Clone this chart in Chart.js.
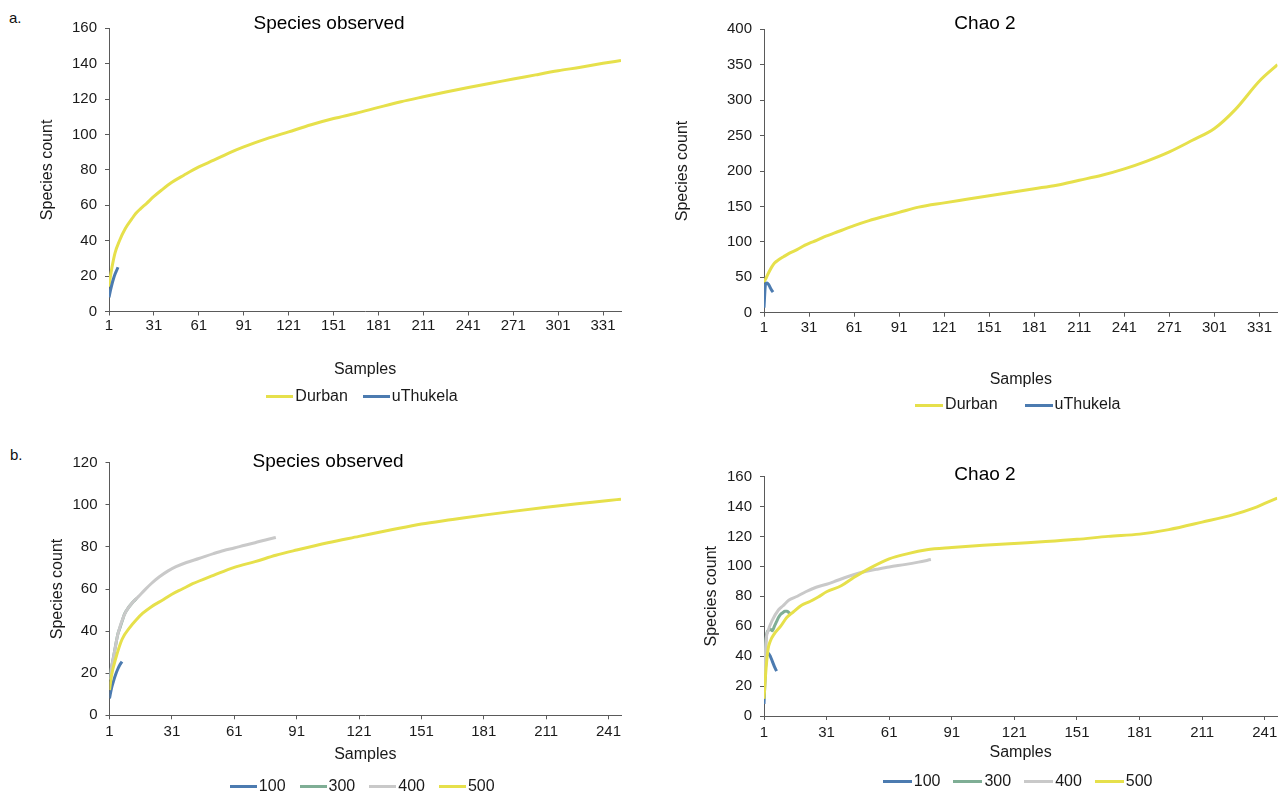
<!DOCTYPE html>
<html>
<head>
<meta charset="utf-8">
<script src="https://cdn.jsdelivr.net/npm/chart.js@4.4.1/dist/chart.umd.min.js"></script>
<style>
html, body { margin: 0; padding: 0; background: #ffffff; width: 1281px; height: 792px; overflow: hidden; }
canvas { position: absolute; left: 0; top: 0; }
.panel { position: absolute; font-family: "Liberation Sans", Arial, sans-serif; font-size: 15px; line-height: 17px; color: #111; }
</style>
</head>
<body>
<div class="panel" style="left:9px;top:9px">a.</div>
<div class="panel" style="left:10px;top:446px">b.</div>
<canvas id="a1" width="1281" height="820"></canvas>
<canvas id="a2" width="1281" height="820"></canvas>
<canvas id="b1" width="1281" height="820"></canvas>
<canvas id="b2" width="1281" height="820"></canvas>
<script>
// ---- tick labels ----
const xTicksA = [1, 31, 61, 91, 121, 151, 181, 211, 241, 271, 301, 331];
const xTicksB = [1, 31, 61, 91, 121, 151, 181, 211, 241];
const xMaxA = 343;
const xMaxB = 247;

// ---- a. Species observed ----
const a1DurbanX = [1, 2, 3, 5, 8, 12, 16, 19, 22, 26, 31, 36, 43, 51, 61, 71, 81, 91, 106, 121, 136, 151, 166, 181, 196, 211, 226, 241, 256, 271, 286, 301, 316, 331, 343];
const a1DurbanY = [14, 20, 25, 33, 40, 47, 52, 55.5, 58, 61, 65, 68.5, 73, 77, 81.7, 85.5, 89.5, 93, 97.5, 101.5, 105.5, 109, 112, 115.3, 118.5, 121.3, 124, 126.6, 129, 131.3, 133.7, 136, 138, 140.2, 141.8];
const a1UthukelaX = [1, 2, 3, 4, 5, 6, 7];
const a1UthukelaY = [8, 12, 15.5, 18.5, 21, 23, 25];

// ---- a. Chao 2 ----
const a2DurbanX = [1, 2, 4, 6, 8, 11, 14, 18, 23, 28, 31, 36, 41, 51, 61, 71, 81, 91, 104, 121, 136, 151, 166, 181, 196, 211, 226, 241, 256, 271, 286, 301, 315, 331, 343];
const a2DurbanY = [43, 47, 56, 64, 70, 75, 79, 84, 89, 95, 98, 102, 107, 115, 123, 130, 136, 141.6, 149, 155, 160, 165, 170, 175, 180, 187, 194, 203, 214, 227, 243, 260, 287, 327, 350];
const a2UthukelaX = [1, 2, 3, 4, 5, 6, 7];
const a2UthukelaY = [7, 40, 42, 40, 36, 32, 29];

// ---- b. Species observed ----
const b1S100X = [1, 2, 3, 4, 5, 6, 7];
const b1S100Y = [8, 13, 16.5, 19.5, 22, 24, 25.5];
const b1S300X = [1, 2, 3, 4, 5, 6, 7, 8, 9, 10, 11, 12, 13, 14];
const b1S300Y = [17, 23, 28, 33.5, 38.5, 41.5, 44.5, 47.5, 49.5, 51, 52.3, 53.5, 54.5, 55.5];
const b1S400X = [1, 2, 3, 5, 8, 10, 12, 15, 18, 21, 25, 29, 33, 38, 44, 51, 56, 61, 66, 71, 76, 81];
const b1S400Y = [17, 23, 28, 38.5, 47.5, 51, 53.5, 56.5, 59.6, 62.5, 65.8, 68.5, 70.6, 72.6, 74.5, 76.8, 78.3, 79.5, 80.8, 82, 83.3, 84.5];
const b1S500X = [1, 2, 4, 7, 11, 14, 17, 21, 27, 31, 36, 41, 51, 61, 71, 81, 91, 106, 121, 136, 151, 166, 181, 196, 211, 226, 241, 247];
const b1S500Y = [12, 19, 27, 36, 42, 45.5, 48.5, 51.5, 55, 57.5, 60, 62.5, 66.5, 70.3, 73, 76, 78.5, 82, 85, 88, 90.9, 93, 95.1, 97, 98.8, 100.5, 102, 102.7];

// ---- b. Chao 2 ----
const b2S100X = [1, 2, 3, 4, 5, 6, 7];
const b2S100Y = [8, 38, 42, 40, 36.5, 33, 30];
const b2S300X = [1, 2, 3, 4, 5, 6, 7, 8, 9, 10, 11, 12, 13, 14];
const b2S300Y = [15, 52, 57, 58, 57, 60, 63, 66, 68, 69, 70, 70, 69, 68];
const b2S400X = [1, 2, 3, 5, 8, 10, 13, 17, 21, 26, 31, 36, 41, 48, 55, 61, 69, 75, 81];
const b2S400Y = [18, 50, 57, 64, 71, 73.5, 77.5, 80, 83, 86, 88, 90.5, 93, 96, 98, 99.6, 101.3, 102.8, 104.5];
const b2S500X = [1, 2, 3, 4, 6, 9, 12, 15, 19, 23, 27, 31, 38, 44, 52, 61, 70, 79, 91, 106, 121, 136, 151, 166, 181, 195, 211, 226, 236, 241, 247];
const b2S500Y = [11.5, 32, 45, 50, 55, 60, 66, 69.5, 74, 76.5, 79.5, 83, 87, 92.5, 99, 105, 108.5, 111, 112.5, 114, 115.3, 116.5, 118, 120, 121.5, 124.5, 129.5, 134.5, 139, 142, 145.5];

// ---- styling ----
const FONT = '"Liberation Sans", Arial, Helvetica, sans-serif';
const YELLOW = '#E6E04B';
const BLUE = '#4C7BB0';
const GREEN = '#7FAE95';
const GREY = '#C9C9C9';
const AXIS = '#5a5a5a';
const TEXT = '#1a1a1a';

function legendLine(color, len) {
  const c = document.createElement('canvas');
  c.width = len; c.height = 3;
  const g = c.getContext('2d');
  g.fillStyle = color;
  g.fillRect(0, 0, len, 3);
  return c;
}

function series(label, xs, ys, color, order, legendLen) {
  return {
    label: label,
    data: xs.map((x, i) => ({ x: x, y: ys[i] })),
    borderColor: color,
    backgroundColor: color,
    borderWidth: 3,
    pointRadius: 0,
    pointHoverRadius: 0,
    pointStyle: legendLine(color, legendLen),
    cubicInterpolationMode: 'monotone',
    borderJoinStyle: 'round',
    fill: false,
    order: order
  };
}

function makeChart(id, L, datasets) {
  return new Chart(document.getElementById(id), {
    type: 'line',
    data: { datasets: datasets },
    options: {
      responsive: false,
      animation: false,
      devicePixelRatio: 1,
      events: [],
      layout: { padding: { left: L.padL, right: L.padR, top: L.padT, bottom: L.padB } },
      plugins: {
        title: {
          display: true, text: L.title, color: '#000',
          font: { family: FONT, size: 19, weight: 'normal' },
          padding: { top: L.titleT, bottom: L.titleB }
        },
        legend: {
          display: true, position: 'bottom', fullSize: false,
          labels: {
            usePointStyle: true, pointStyleWidth: L.legBox, padding: L.legPad,
            color: TEXT, font: { family: FONT, size: 16 },
            sort: (a, b) => a.datasetIndex - b.datasetIndex
          }
        },
        tooltip: { enabled: false }
      },
      scales: {
        x: {
          type: 'linear', min: 1, max: L.xMax,
          afterBuildTicks: (s) => { s.ticks = L.xTicks.map(v => ({ value: v })); },
          afterFit: (s) => { s.height = L.xH; },
          ticks: { color: TEXT, font: { family: FONT, size: 15 }, padding: L.xTickPad, maxRotation: 0, autoSkip: false },
          grid: { drawOnChartArea: false, drawTicks: true, tickLength: 4, color: AXIS },
          border: { display: true, color: AXIS, width: 1 },
          title: { display: true, text: 'Samples', color: TEXT, font: { family: FONT, size: 16 }, padding: { top: 0, bottom: L.xTitlePad } }
        },
        y: {
          type: 'linear', min: 0, max: L.yMax,
          afterFit: (s) => { s.width = L.yW; },
          ticks: { stepSize: L.yStep, color: TEXT, font: { family: FONT, size: 15 }, padding: 8 },
          grid: { drawOnChartArea: false, drawTicks: true, tickLength: 4, color: AXIS },
          border: { display: true, color: AXIS, width: 1 },
          title: { display: true, text: 'Species count', color: TEXT, font: { family: FONT, size: 16 }, padding: { top: L.yTitlePad, bottom: 0 } }
        }
      }
    }
  });
}

// a. Species observed
makeChart('a1', {
  title: 'Species observed', padL: 37, padR: 660, padT: 0, padB: 405.3,
  titleT: 11.9, titleB: -6.4, yW: 72, yTitlePad: 1.1, yMax: 160, yStep: 20,
  xMax: xMaxA, xTicks: xTicksA, xH: 56.2, xTickPad: 1.5, xTitlePad: -11.9,
  legPad: 21, legBox: 15
}, [
  series('Durban', a1DurbanX, a1DurbanY, YELLOW, 2, 27),
  series('uThukela', a1UthukelaX, a1UthukelaY, BLUE, 1, 27)
]);

// a. Chao 2
makeChart('a2', {
  title: 'Chao 2', padL: 692.5, padR: 3.5, padT: 0, padB: 397,
  titleT: 11.9, titleB: -5.4, yW: 71.5, yTitlePad: -19.1, yMax: 400, yStep: 50,
  xMax: xMaxA, xTicks: xTicksA, xH: 51.3, xTickPad: 2.6, xTitlePad: -25.6,
  legPad: 33, legBox: 16
}, [
  series('Durban', a2DurbanX, a2DurbanY, YELLOW, 2, 28),
  series('uThukela', a2UthukelaX, a2UthukelaY, BLUE, 1, 28)
]);

// b. Species observed
makeChart('b1', {
  title: 'Species observed', padL: 35, padR: 660, padT: 440, padB: 15.3,
  titleT: 10.3, titleB: -10.4, yW: 74.5, yTitlePad: 12.8, yMax: 120, yStep: 20,
  xMax: xMaxB, xTicks: xTicksB, xH: 43.4, xTickPad: 3.4, xTitlePad: -5.9,
  legPad: 20, legBox: 15
}, [
  series('100', b1S100X, b1S100Y, BLUE, 4, 27),
  series('300', b1S300X, b1S300Y, GREEN, 3, 27),
  series('400', b1S400X, b1S400Y, GREY, 2, 27),
  series('500', b1S500X, b1S500Y, YELLOW, 1, 27)
]);

// b. Chao 2
makeChart('b2', {
  title: 'Chao 2', padL: 691, padR: 2, padT: 440, padB: 20.3,
  titleT: 23.6, titleB: -9.9, yW: 73, yTitlePad: 11.1, yMax: 160, yStep: 20,
  xMax: xMaxB, xTicks: xTicksB, xH: 38.7, xTickPad: 3.7, xTitlePad: -7.6,
  legPad: 19, legBox: 17
}, [
  series('100', b2S100X, b2S100Y, BLUE, 4, 29),
  series('300', b2S300X, b2S300Y, GREEN, 3, 29),
  series('400', b2S400X, b2S400Y, GREY, 2, 29),
  series('500', b2S500X, b2S500Y, YELLOW, 1, 29)
]);
</script>
</body>
</html>
